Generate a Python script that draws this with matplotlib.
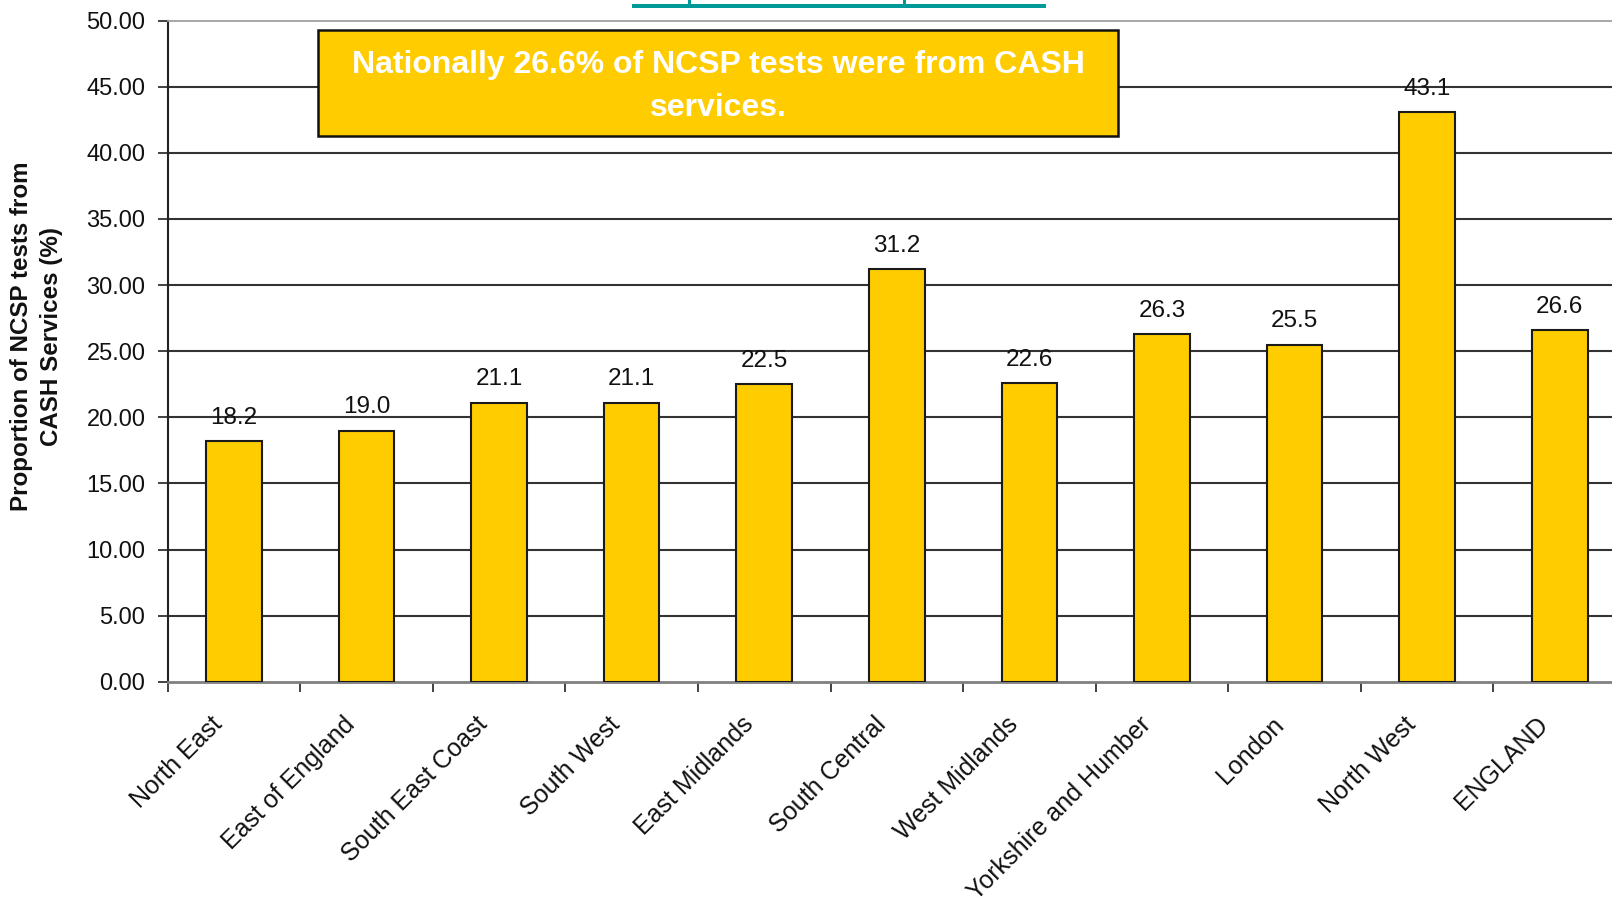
import matplotlib
matplotlib.use("Agg")
import matplotlib.pyplot as plt
from matplotlib.patches import Rectangle
from matplotlib.transforms import ScaledTranslation
import numpy as np

plt.rcParams['font.family'] = ['Liberation Sans', 'DejaVu Sans']

regions = ["North East", "East of England", "South East Coast", "South West",
           "East Midlands", "South Central", "West Midlands",
           "Yorkshire and Humber", "London", "North West", "ENGLAND"]
values = [18.2, 19.0, 21.1, 21.1, 22.5, 31.2, 22.6, 26.3, 25.5, 43.1, 26.6]
value_labels = ["18.2", "19.0", "21.1", "21.1", "22.5", "31.2", "22.6",
                "26.3", "25.5", "43.1", "26.6"]
ytick_values = [0, 5, 10, 15, 20, 25, 30, 35, 40, 45, 50]
ylabel_text = "Proportion of NCSP tests from\nCASH Services (%)"
box_text = "Nationally 26.6% of NCSP tests were from CASH\nservices."

W, H = 1612, 902
fig = plt.figure(figsize=(W / 100, H / 100), dpi=100)
fig.patch.set_facecolor("white")

def fx(px):
    return px / W

def fy(py):
    return 1 - py / H

left, right, top, bottom = 167.6, 1626.0, 20.6, 681.8
ax = fig.add_axes([fx(left), fy(bottom), fx(right - left), (bottom - top) / H])

x = np.arange(len(regions))
ax.bar(x, values, width=0.42, color="#FFCC00", edgecolor="#1a1a1a",
       linewidth=1.5, zorder=3)

ax.set_xlim(-0.5, len(regions) - 0.5)
ax.set_ylim(0, 50)
ax.set_yticks(ytick_values)
ax.set_yticklabels([f"{v:.2f}" for v in ytick_values], fontsize=17,
                   color="#111111")

ax.yaxis.grid(True, color="#333333", linewidth=1.5, zorder=0)
ax.set_axisbelow(True)
gl = ax.get_ygridlines()
gl[-1].set_visible(False)
gl[0].set_visible(False)

ax.set_xticks(x)
ax.set_xticklabels(regions, rotation=45, ha="right", va="center",
                   rotation_mode="anchor", fontsize=18, color="#111111")
ax.tick_params(axis="x", which="major", length=0, pad=28)
shift = ScaledTranslation(-15 / 100, 0, fig.dpi_scale_trans)
for lab in ax.get_xticklabels():
    lab.set_transform(lab.get_transform() + shift)
ax.set_xticks(np.arange(len(regions) + 1) - 0.5, minor=True)
ax.tick_params(axis="x", which="minor", length=7, width=1.3,
               color="#333333", direction="out")
ax.tick_params(axis="y", length=7, width=1.3, color="#333333",
               direction="out", pad=9)

ax.spines["left"].set_color("#222222")
ax.spines["left"].set_linewidth(1.5)
ax.spines["bottom"].set_color("#808080")
ax.spines["bottom"].set_linewidth(2)
ax.spines["top"].set_color("#A0A0A0")
ax.spines["top"].set_linewidth(1.3)
ax.spines["right"].set_visible(False)

for xi, v, lab in zip(x, values, value_labels):
    ax.annotate(lab, (xi, v), xytext=(0, 16.8), textcoords="offset points",
                ha="center", va="center", fontsize=17.5, color="#111111",
                zorder=4)

fig.text(fx(36.5), fy(336), ylabel_text, rotation=90, ha="center",
         va="center", multialignment="center", fontsize=17.4,
         fontweight="bold", linespacing=1.38, color="#111111")

# callout box
bx0, by0, bx1, by1 = 317.7, 29.8, 1118.5, 135.7
fig.add_artist(Rectangle((fx(bx0), fy(by1)), fx(bx1 - bx0), (by1 - by0) / H,
                         transform=fig.transFigure, facecolor="#FFCC00",
                         edgecolor="#111111", linewidth=1.8, zorder=5))
fig.text(fx((bx0 + bx1) / 2), fy((by0 + by1) / 2 + 4), box_text,
         ha="center", va="center", multialignment="center", fontsize=23,
         fontweight="bold", color="white", linespacing=1.55, zorder=6)

# teal fragment of cut-off heading at the top
teal = "#009999"
fig.add_artist(Rectangle((fx(632), fy(8.3)), fx(414), 4.3 / H,
                         transform=fig.transFigure, facecolor=teal,
                         edgecolor="none"))
for sx in (687.5, 903):
    fig.add_artist(Rectangle((fx(sx), fy(4.5)), fx(3), 4.5 / H,
                             transform=fig.transFigure, facecolor=teal,
                             edgecolor="none"))

fig.savefig("out.png", dpi=100)
